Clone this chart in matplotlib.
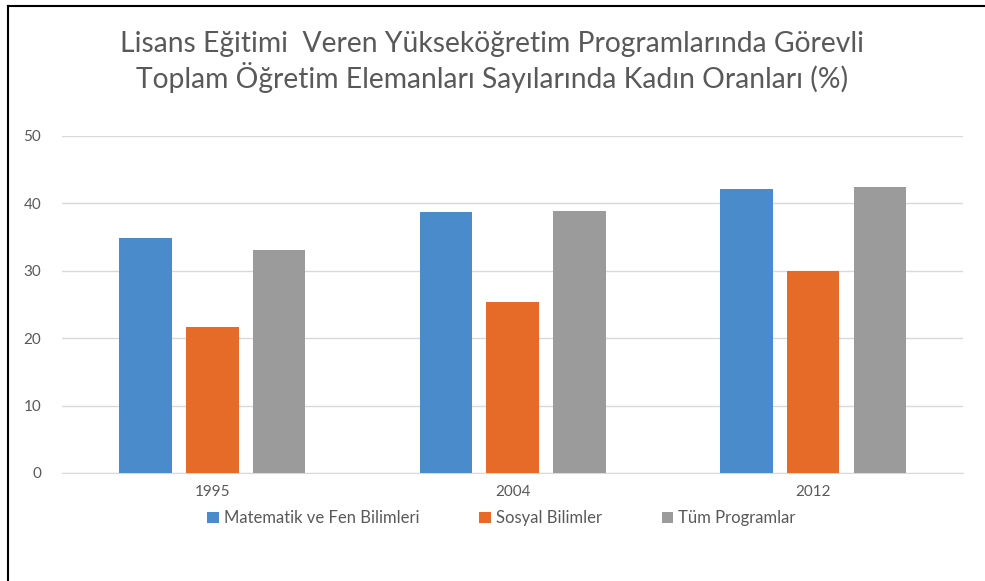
import matplotlib
matplotlib.use("Agg")
import matplotlib.pyplot as plt
import numpy as np
from matplotlib.lines import Line2D

years = ["1995", "2004", "2012"]
series_names = ["Matematik ve Fen Bilimleri", "Sosyal Bilimler", "Tüm Programlar"]
mat_fen = [34.9, 38.7, 42.2]
sosyal = [21.7, 25.3, 29.9]
tum = [33.1, 38.9, 42.5]
colors = ["#4a8ccb", "#e76b28", "#9b9b9b"]
yticks = [0, 10, 20, 30, 40, 50]

plt.rcParams['font.family'] = ['Lato', 'DejaVu Sans']
fig = plt.figure(figsize=(9.85, 5.81), dpi=100)
ax = fig.add_axes([0.063, 0.186, 0.915, 0.58])

x = np.arange(len(years))
w = 0.175
off = 0.222
for i, (vals, name, c) in enumerate(zip([mat_fen, sosyal, tum], series_names, colors)):
    ax.bar(x + (i - 1) * off, vals, width=w, color=c, label=name, zorder=3)

ax.set_xlim(-0.5, 2.5)
ax.set_ylim(0, 50)
ax.set_yticks(yticks)
ax.set_xticks(x)
ax.set_xticklabels(years)
ax.grid(axis='y', color='#d9d9d9', linewidth=1, zorder=0)
for s in ['top', 'right', 'left']:
    ax.spines[s].set_visible(False)
ax.spines['bottom'].set_color('#d9d9d9')
ax.tick_params(axis='both', length=0, colors='#595959', labelsize=11)
ax.tick_params(axis='y', pad=15)
ax.tick_params(axis='x', pad=9)

fig.text(0.5, 0.925, "Lisans Eğitimi  Veren Yükseköğretim Programlarında Görevli",
         ha='center', va='center', fontsize=20.3, color='#595959')
fig.text(0.5, 0.866, "Toplam Öğretim Elemanları Sayılarında Kadın Oranları (%)",
         ha='center', va='center', fontsize=20.3, color='#595959')

leg = fig.legend(loc='center', bbox_to_anchor=(0.509, 0.108), ncol=3, frameon=False,
                 fontsize=12, handlelength=0.7, handleheight=0.7, handletextpad=0.3,
                 columnspacing=3.6)
for t in leg.get_texts():
    t.set_color('#595959')

fig.add_artist(Line2D([0.008, 0.008], [0, 0.99], transform=fig.transFigure, color='black', lw=1.5))
fig.add_artist(Line2D([0.008, 1.0], [0.99, 0.99], transform=fig.transFigure, color='black', lw=1.5))

fig.savefig("out.png", dpi=100)
